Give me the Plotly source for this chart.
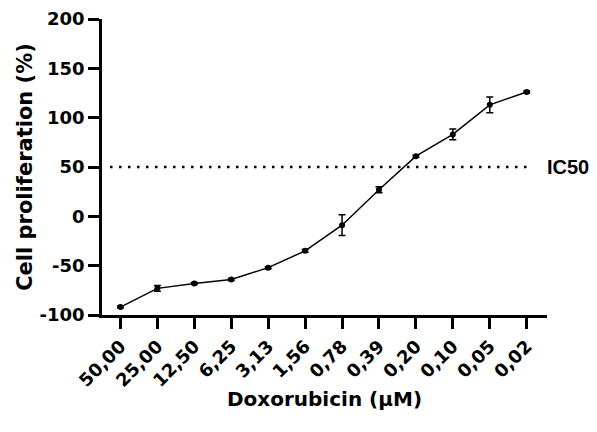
import plotly.graph_objects as go

concentrations = ["50,00", "25,00", "12,50", "6,25", "3,13", "1,56",
                  "0,78", "0,39", "0,20", "0,10", "0,05", "0,02"]
proliferation = [-92, -73, -68, -64, -52, -35, -9, 27, 61, 83, 113, 126]
errors = [1, 3, 1, 1, 1, 1.5, 10.5, 3, 1, 5.5, 8, 1]
ic50_value = 50
y_ticks = [-100, -50, 0, 50, 100, 150, 200]
y_tick_labels = ["-100", "-50", "0", "50", "100", "150", "200"]

FONT = "DejaVu Sans, Liberation Sans, Arial, sans-serif"
FONT_IC = "Liberation Sans, Arial, sans-serif"

fig = go.Figure()
fig.add_trace(go.Scatter(
    x=list(range(len(concentrations))),
    y=proliferation,
    mode="lines+markers",
    line=dict(color="black", width=1.5),
    marker=dict(color="black", size=6),
    error_y=dict(type="data", array=errors, visible=True,
                 color="black", thickness=1.5, width=3.5),
    showlegend=False,
))

fig.add_shape(type="line", xref="paper", yref="y",
              x0=0.018, x1=0.965, y0=ic50_value, y1=ic50_value,
              line=dict(color="black", width=2.5, dash="2.5px,6.5px"))
fig.add_annotation(xref="paper", yref="y", x=1.0, y=ic50_value,
                   text="IC50", showarrow=False, xanchor="left", xshift=-2,
                   font=dict(family=FONT_IC, size=20, color="black", weight="bold"))

# page body has an 8px margin; keep the figure inside the window (no scrollbars)
fig.update_layout(
    width=589, height=416,
    margin=dict(l=94, r=50, t=11, b=109, autoexpand=False),
    plot_bgcolor="white", paper_bgcolor="white",
    font=dict(family=FONT, color="black", weight="bold"),
)
fig.update_xaxes(
    range=[-0.5, 11.55],
    tickmode="array",
    tickvals=list(range(len(concentrations))),
    ticktext=concentrations,
    tickangle=-45,
    tickfont=dict(family=FONT, size=18, color="black", weight="bold"),
    ticks="outside", ticklen=11, tickwidth=2.5, tickcolor="black",
    showline=True, linewidth=2.5, linecolor="black",
    showgrid=False, zeroline=False,
    title=dict(text="Doxorubicin (μM)", standoff=3,
               font=dict(family=FONT, size=20, color="black", weight="bold")),
)
fig.update_yaxes(
    range=[-100, 200],
    tickmode="array", tickvals=y_ticks, ticktext=y_tick_labels,
    tickfont=dict(family=FONT, size=18, color="black", weight="bold"),
    ticks="outside", ticklen=11, tickwidth=2.5, tickcolor="black",
    showline=True, linewidth=2.5, linecolor="black",
    showgrid=False, zeroline=False,
    title=dict(text="Cell proliferation (%)", standoff=2,
               font=dict(family=FONT, size=21, color="black", weight="bold")),
)

fig.write_html("out.html")
